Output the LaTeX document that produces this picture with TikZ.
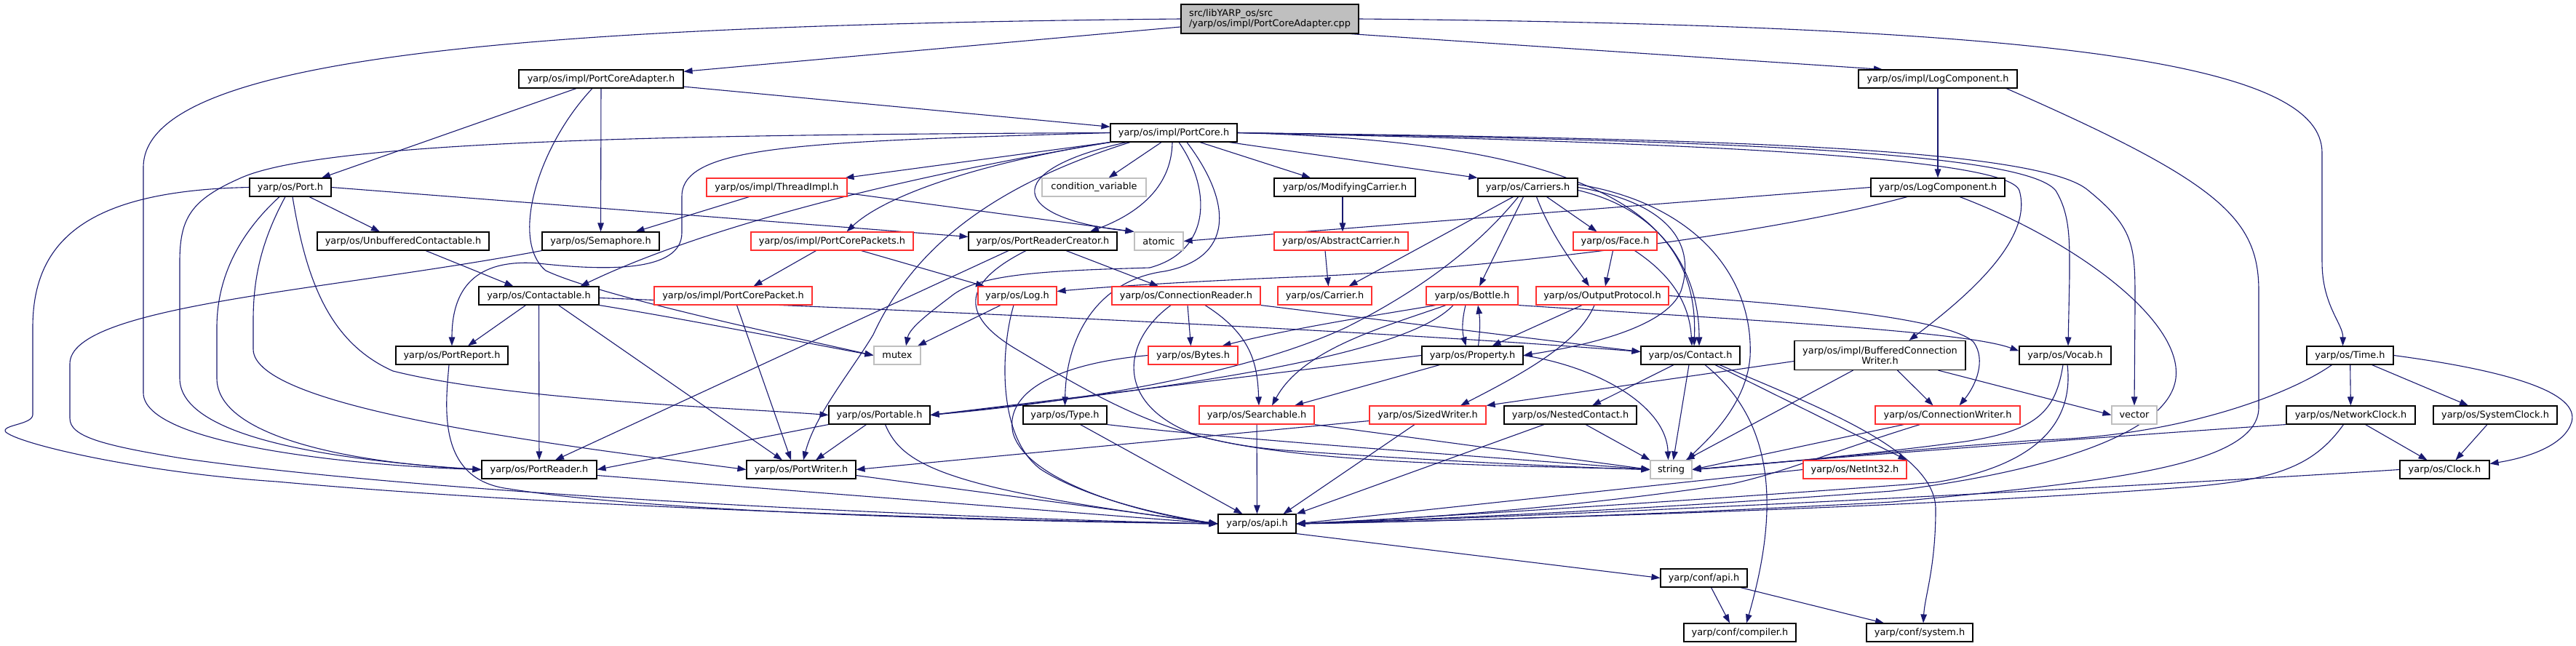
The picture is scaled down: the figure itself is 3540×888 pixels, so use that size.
\documentclass[tikz,border=0pt]{standalone}
\usepackage{fontspec}
\setmainfont{DejaVu Sans}
\usetikzlibrary{arrows.meta}
\definecolor{edgec}{HTML}{191970}
\definecolor{redc}{HTML}{FF3030}
\definecolor{grayc}{HTML}{BFBFBF}
\definecolor{rootc}{HTML}{BFBFBF}
\pgfdeclarelayer{bg}
\pgfsetlayers{bg,main}
\tikzset{
  box/.style={draw=black, line width=1.1pt, fill=white, minimum height=25pt, inner sep=0pt,
    font=\fontsize{12.9}{14}\selectfont, text=black},
  rbox/.style={box, draw=redc},
  gbox/.style={box, draw=grayc},
  e/.style={draw=edgec, line width=1.1pt, -{Triangle[length=12pt,width=8.5pt]}}
}
\begin{document}
\begin{tikzpicture}[x=1pt,y=-1pt]
\useasboundingbox (0,0) rectangle (3540,888);
% nodes
\node[box, fill=rootc, minimum width=244pt, minimum height=40pt, align=left] (root) at (1745,26) {src/libYARP\_os/src\\/yarp/os/impl/PortCoreAdapter.cpp};
\node[box, minimum width=226pt] (pca) at (826,108.5) {yarp/os/impl/PortCoreAdapter.h};
\node[box, minimum width=174pt] (pc) at (1613,182.5) {yarp/os/impl/PortCore.h};
\node[box, minimum width=218pt] (ilog) at (2663,108.5) {yarp/os/impl/LogComponent.h};
\node[box, minimum width=112pt] (port) at (399,257.5) {yarp/os/Port.h};
\node[rbox, minimum width=193pt] (thr) at (1067.5,257.5) {yarp/os/impl/ThreadImpl.h};
\node[gbox, minimum width=143pt] (cv) at (1503.5,257.5) {condition\_variable};
\node[box, minimum width=194pt] (mod) at (1848,257.5) {yarp/os/ModifyingCarrier.h};
\node[box, minimum width=137pt] (carriers) at (2099.5,257.5) {yarp/os/Carriers.h};
\node[box, minimum width=184pt] (olog) at (2663,257.5) {yarp/os/LogComponent.h};
\node[box, minimum width=236pt] (unb) at (554,331.5) {yarp/os/UnbufferedContactable.h};
\node[box, minimum width=161pt] (sem) at (825.5,331.5) {yarp/os/Semaphore.h};
\node[rbox, minimum width=223pt] (pcps) at (1143.5,331.5) {yarp/os/impl/PortCorePackets.h};
\node[box, minimum width=204pt] (prc) at (1433,331.5) {yarp/os/PortReaderCreator.h};
\node[gbox, minimum width=67pt] (atomic) at (1592.5,331.5) {atomic};
\node[rbox, minimum width=184pt] (abs) at (1843,331.5) {yarp/os/AbstractCarrier.h};
\node[rbox, minimum width=115pt] (face) at (2219.5,331.5) {yarp/os/Face.h};
\node[box, minimum width=165pt] (ctb) at (740.5,406.5) {yarp/os/Contactable.h};
\node[rbox, minimum width=217pt] (pcp) at (1007.5,406.5) {yarp/os/impl/PortCorePacket.h};
\node[rbox, minimum width=108pt] (log) at (1398,406.5) {yarp/os/Log.h};
\node[rbox, minimum width=204pt] (cr) at (1630,406.5) {yarp/os/ConnectionReader.h};
\node[rbox, minimum width=129pt] (carrier) at (1820.5,406.5) {yarp/os/Carrier.h};
\node[rbox, minimum width=126pt] (bottle) at (2023,406.5) {yarp/os/Bottle.h};
\node[rbox, minimum width=182pt] (op) at (2202,406.5) {yarp/os/OutputProtocol.h};
\node[box, minimum width=154pt] (prep) at (621,488.5) {yarp/os/PortReport.h};
\node[gbox, minimum width=64pt] (mutex) at (1233,488.5) {mutex};
\node[rbox, minimum width=123pt] (bytes) at (1639.5,488.5) {yarp/os/Bytes.h};
\node[box, minimum width=139pt] (prop) at (2023.5,488.5) {yarp/os/Property.h};
\node[box, minimum width=136pt] (contact) at (2323,488.5) {yarp/os/Contact.h};
\node[box, minimum width=235pt, minimum height=40pt, align=center] (bcw) at (2583.5,488.5) {yarp/os/impl/BufferedConnection\\Writer.h};
\node[box, minimum width=126pt] (vocab) at (2838,488.5) {yarp/os/Vocab.h};
\node[box, minimum width=119pt] (time) at (3229.5,488.5) {yarp/os/Time.h};
\node[box, minimum width=139pt] (portable) at (1208.5,570.5) {yarp/os/Portable.h};
\node[box, minimum width=115pt] (type) at (1463.5,570.5) {yarp/os/Type.h};
\node[rbox, minimum width=158pt] (search) at (1727,570.5) {yarp/os/Searchable.h};
\node[rbox, minimum width=160pt] (sw) at (1962,570.5) {yarp/os/SizedWriter.h};
\node[box, minimum width=182pt] (nc) at (2158,570.5) {yarp/os/NestedContact.h};
\node[rbox, minimum width=199pt] (cw) at (2676.5,570.5) {yarp/os/ConnectionWriter.h};
\node[gbox, minimum width=62pt] (vector) at (2933,570.5) {vector};
\node[box, minimum width=177pt] (nclock) at (3230.5,570.5) {yarp/os/NetworkClock.h};
\node[box, minimum width=170pt] (sclock) at (3429,570.5) {yarp/os/SystemClock.h};
\node[box, minimum width=158pt] (preader) at (741,645.5) {yarp/os/PortReader.h};
\node[box, minimum width=150pt] (pw) at (1101,645.5) {yarp/os/PortWriter.h};
\node[gbox, minimum width=57pt] (string) at (2296.5,645.5) {string};
\node[rbox, minimum width=142pt] (ni) at (2549,645.5) {yarp/os/NetInt32.h};
\node[box, minimum width=123pt] (clock) at (3359.5,645.5) {yarp/os/Clock.h};
\node[box, minimum width=107pt, minimum height=26pt] (api) at (1727.5,720) {yarp/os/api.h};
\node[box, minimum width=119pt] (capi) at (2341.5,794.5) {yarp/conf/api.h};
\node[box, minimum width=154pt] (comp) at (2391,869.5) {yarp/conf/compiler.h};
\node[box, minimum width=146pt] (sys) at (2638,869.5) {yarp/conf/system.h};

\begin{pgfonlayer}{bg}
\fill[white] (0,0) rectangle (3540,888);
% root
\draw[e] (root) -- (pca);
\draw[e] (root.west) .. controls (700,35) and (197,80) .. (197,230) -- (197,540) .. controls (197,610) and (480,640) .. (preader.west);
\draw[e] ([xshift=-12pt]root.south east) -- ([xshift=-76pt]ilog.north);
\draw[e] (root.east) .. controls (2850,35) and (3191,90) .. (3191,210) -- (3191,360) .. controls (3191,420) and (3220,445) .. ([xshift=-10pt]time.north);
% PortCoreAdapter
\draw[e] ([xshift=-34pt]pca.south) -- ([xshift=43pt]port.north);
\draw[e] (pca) -- (sem);
\draw[e] ([xshift=-12pt]pca.south) .. controls (740,200) and (700,330) .. (750,372) .. controls (820,405) and (1050,455) .. (mutex.west);
\draw[e] (pca) -- (pc);
% PortCore
\draw[e] (pc.south west) -- ([xshift=94pt]thr.north);
\draw[e] ([xshift=-17pt]pc.south) -- ([xshift=20pt]cv.north);
\draw[e] ([xshift=36pt]pc.south) -- ([xshift=-47pt]mod.north);
\draw[e] ([xshift=76pt]pc.south) -- (carriers.north west);
\draw[e] (pc.south west) .. controls (1340,225) and (1215,270) .. ([xshift=20pt]pcps.north);
\draw[e] (pc.south west) .. controls (1200,250) and (950,320) .. ([xshift=57pt]ctb.north);
\draw[e] ([xshift=-2pt]pc.south) .. controls (1610,260) and (1560,295) .. ([xshift=65pt]prc.north);
\draw[e] ([xshift=-65pt]pc.south) .. controls (1370,235) and (1390,300) .. (atomic.north west);
\draw[e] ([xshift=7pt]pc.south) .. controls (1665,260) and (1665,345) .. (1580,368) .. controls (1450,372) and (1350,375) .. (1310,405) .. controls (1280,428) and (1250,450) .. ([xshift=12pt]mutex.north);
\draw[e] ([xshift=18pt]pc.south) .. controls (1695,280) and (1695,355) .. (1600,373) .. controls (1510,385) and (1465,460) .. (type.north);
\draw[e] ([xshift=-60pt]pc.south) .. controls (1380,250) and (1260,330) .. (1200,460) .. controls (1170,510) and (1120,570) .. ([xshift=3pt]pw.north);
\draw[e] (pc.west) .. controls (1000,185) and (450,190) .. (330,245) .. controls (262,275) and (247,300) .. (247,360) -- (247,520) .. controls (247,600) and (450,632) .. (preader.west);
\draw[e] (pc.west) .. controls (1100,195) and (937,200) .. (937,270) -- (937,320) .. controls (937,375) and (830,372) .. (740,362) .. controls (650,355) and (621,400) .. (prep.north);
\draw[e] (pc.east) .. controls (2200,195) and (2335,300) .. ([xshift=5pt]contact.north);
\draw[e] (pc.east) .. controls (2300,195) and (2760,215) .. (2775,262) .. controls (2795,330) and (2700,410) .. ([xshift=40pt]bcw.north);
\draw[e] (pc.east) .. controls (2300,192) and (2780,205) .. (2825,262) .. controls (2845,295) and (2844,330) .. (2844,380) -- ([xshift=4pt]vocab.north);
\draw[e] (pc.east) .. controls (2300,190) and (2800,200) .. (2870,262) .. controls (2935,315) and (2934,340) .. (2934,420) -- (vector.north);
% Port
\draw[e] ([xshift=26pt]port.south) -- ([xshift=-32pt]unb.north);
\draw[e] (port.east) -- ([yshift=6pt]prc.west);
\draw[e] ([xshift=-15pt]port.south) .. controls (330,320) and (298,380) .. (298,450) -- (298,520) .. controls (298,600) and (480,636) .. (preader.west);
\draw[e] ([xshift=-7pt]port.south) .. controls (360,330) and (348,380) .. (348,440) -- (348,480) .. controls (348,560) and (750,610) .. (pw.west);
\draw[e] ([xshift=3pt]port.south) .. controls (420,380) and (450,470) .. (540,510) .. controls (700,550) and (1000,560) .. (portable.west);
\draw[e] (port.west) .. controls (120,262) and (45,330) .. (45,450) -- (45,570) .. controls (45,584) and (0,584) .. (8,594) .. controls (30,612) and (200,650) .. (380,662) .. controls (800,700) and (1400,716) .. (api.west);
% Semaphore, ThreadImpl, Unbuffered
\draw[e] (sem.south west) .. controls (450,400) and (96,420) .. (96,500) -- (96,575) .. controls (96,600) and (140,612) .. (250,630) .. controls (600,680) and (1300,712) .. (api.west);
\draw[e] ([xshift=-38pt]thr.south) -- ([xshift=48pt]sem.north);
\draw[e] ([yshift=-8pt]thr.east) -- (atomic.north west);
\draw[e] ([xshift=31pt]unb.south) -- ([xshift=-35pt]ctb.north);
% PortCorePackets, PortCorePacket
\draw[e] ([xshift=-22pt]pcps.south) -- ([xshift=28pt]pcp.north);
\draw[e] ([xshift=40pt]pcps.south) -- ([xshift=-45pt]log.north);
\draw[e] ([xshift=5pt]pcp.south) -- ([xshift=-14pt]pw.north);
% PortReaderCreator
\draw[e] ([xshift=32pt]prc.south) -- ([xshift=-38pt]cr.north);
\draw[e] ([xshift=-47pt]prc.south) -- ([xshift=22pt]preader.north);
\draw[e] ([xshift=-23pt]prc.south) .. controls (1330,385) and (1310,430) .. (1400,482) .. controls (1530,560) and (1620,610) .. (1780,620) .. controls (1950,632) and (2150,642) .. (string.west);
% ConnectionReader
\draw[e] ([xshift=2pt]cr.south) -- ([xshift=-3pt]bytes.north);
\draw[e] ([xshift=26pt]cr.south) .. controls (1720,460) and (1728,500) .. ([xshift=3pt]search.north);
\draw[e] ([xshift=-21pt]cr.south) .. controls (1540,470) and (1530,560) .. (1650,600) .. controls (1800,640) and (2100,640) .. (string.west);
\draw[e] (cr.south east) -- ([yshift=5pt]contact.west);
% Contactable
\draw[e] ([xshift=-18pt]ctb.south) -- ([xshift=22pt]prep.north);
\draw[e] (ctb) -- (preader);
\draw[e] ([xshift=27pt]ctb.south) -- ([xshift=-26pt]pw.north);
\draw[e] (ctb.south east) .. controls (950,440) and (1100,470) .. (mutex.west);
\draw[e] ([yshift=-3pt]ctb.east) .. controls (1300,428) and (1900,455) .. ([yshift=5pt]contact.west);
% PortReport, Log, Bytes, Type
\draw[e] ([xshift=-4pt]prep.south) .. controls (612,560) and (600,660) .. (700,672) .. controls (900,705) and (1400,717) .. (api.west);
\draw[e] ([xshift=-23pt]log.south) -- ([xshift=28pt]mutex.north);
\draw[e] ([xshift=-5pt]log.south) .. controls (1375,480) and (1370,600) .. (1430,645) .. controls (1500,690) and (1620,712) .. (api.west);
\draw[e] (bytes.west) .. controls (1450,500) and (1380,540) .. (1392,595) .. controls (1410,660) and (1560,705) .. (api.west);
\draw[e] ([xshift=21pt]type.south) -- ([xshift=-20pt]api.north);
\draw[e] (type.south east) .. controls (1700,605) and (2100,632) .. (string.west);
% Portable, PortWriter, PortReader, Searchable
\draw[e] ([xshift=-18pt]portable.south) -- ([xshift=20pt]pw.north);
\draw[e] (portable.south west) -- (preader.east);
\draw[e] ([xshift=8pt]portable.south) .. controls (1240,640) and (1300,672) .. (api.west);
\draw[e] ([yshift=-8pt]pw.east) -- (api.west);
\draw[e] ([yshift=-8pt]preader.east) -- (api.west);
\draw[e] (search) -- (api);
\draw[e] (search.south east) -- (string.west);
% Bottle, Property
\draw[e] ([xshift=-9pt]bottle.south) .. controls (2009,440) and (2009,455) .. ([xshift=-9pt]prop.north);
\draw[e] ([xshift=8pt]prop.north) .. controls (2034,455) and (2034,440) .. ([xshift=8pt]bottle.south);
\draw[e] ([xshift=-50pt]bottle.south) .. controls (1900,432) and (1780,450) .. ([xshift=40pt]bytes.north);
\draw[e] ([xshift=-36pt]bottle.south) .. controls (1900,450) and (1790,480) .. ([xshift=21pt]search.north);
\draw[e] ([xshift=-26pt]bottle.south) .. controls (1940,480) and (1700,525) .. (portable.east);
\draw[e] (bottle.south east) .. controls (2400,440) and (2700,455) .. ([yshift=6pt]vocab.west);
\draw[e] (prop.west) -- (portable.east);
\draw[e] ([xshift=-45pt]prop.south) -- ([xshift=52pt]search.north);
\draw[e] (prop.east) .. controls (2200,505) and (2290,560) .. ([xshift=-4pt]string.north);
% Face, OutputProtocol
\draw[e] ([xshift=-3pt]face.south) -- ([xshift=4pt]op.north);
\draw[e] ([xshift=27pt]face.south) .. controls (2300,380) and (2322,420) .. ([xshift=2pt]contact.north);
\draw[e] ([xshift=-28pt]op.south) -- ([xshift=27pt]prop.north);
\draw[e] ([xshift=-11pt]op.south) .. controls (2170,470) and (2100,510) .. ([xshift=45pt]sw.north);
\draw[e] (op.east) .. controls (2500,420) and (2680,440) .. (2712,470) .. controls (2730,495) and (2715,530) .. ([xshift=16pt]cw.north);
% Carriers
\draw[e] ([xshift=-20pt]carriers.south) -- ([xshift=33pt]carrier.north);
\draw[e] ([xshift=-6pt]carriers.south) -- ([xshift=10pt]bottle.north);
\draw[e] ([xshift=12pt]carriers.south) .. controls (2130,320) and (2160,360) .. ([xshift=-18pt]op.north);
\draw[e] ([xshift=26pt]carriers.south) -- ([xshift=-25pt]face.north);
\draw[e] ([xshift=-13pt]carriers.south) .. controls (2030,340) and (1950,400) .. (1850,450) .. controls (1700,520) and (1450,555) .. (portable.east);
\draw[e] (carriers.east) .. controls (2300,280) and (2330,340) .. (2310,400) .. controls (2290,450) and (2180,475) .. (prop.east);
\draw[e] ([yshift=-4pt]carriers.east) .. controls (2290,290) and (2335,380) .. ([xshift=12pt]contact.north);
\draw[e] ([yshift=4pt]carriers.east) .. controls (2330,280) and (2410,380) .. (2405,490) .. controls (2400,560) and (2340,610) .. ([xshift=22pt]string.north);
\draw[e] ([xshift=-3pt]mod.south) -- ([xshift=2pt]abs.north);
\draw[e] ([xshift=-22pt]abs.south) -- ([xshift=5pt]carrier.north);
% LogComponent
\draw[e] (ilog) -- (olog);
\draw[e] ([xshift=94pt]ilog.south) .. controls (3050,250) and (3104,300) .. (3104,400) -- (3104,560) .. controls (3104,640) and (2900,662) .. (2600,690) .. controls (2200,712) and (1900,718) .. (api.east);
\draw[e] ([xshift=-42pt]olog.south) .. controls (2400,330) and (2000,372) .. (1800,380) .. controls (1650,386) and (1520,394) .. ([yshift=6pt]log.east);
\draw[e] (olog.west) -- (atomic.east);
\draw[e] ([xshift=30pt]olog.south) .. controls (2850,330) and (3000,440) .. (2990,520) .. controls (2980,600) and (2800,650) .. (2600,675) .. controls (2200,705) and (1900,716) .. (api.east);
% Time, clocks
\draw[e] (time) -- (nclock);
\draw[e] ([xshift=30pt]time.south) -- ([xshift=-37pt]sclock.north);
\draw[e] (time.east) .. controls (3450,510) and (3545,540) .. (3534,580) .. controls (3525,610) and (3480,628) .. ([yshift=8pt]clock.east);
\draw[e] ([xshift=-25pt]time.south) .. controls (3150,540) and (3000,600) .. (2800,605) .. controls (2600,620) and (2400,640) .. (string.east);
\draw[e] ([xshift=20pt]nclock.south) -- ([xshift=-24pt]clock.north);
\draw[e] (nclock.south west) .. controls (2900,600) and (2500,630) .. (string.east);
\draw[e] ([xshift=-10pt]nclock.south) .. controls (3180,640) and (3130,660) .. (3000,670) .. controls (2600,700) and (2000,716) .. (api.east);
\draw[e] ([xshift=-11pt]sclock.south) -- ([xshift=15pt]clock.north);
\draw[e] (clock.west) .. controls (3000,665) and (2200,708) .. (api.east);
% Vocab
\draw[e] ([xshift=-3pt]vocab.south) .. controls (2825,565) and (2800,592) .. (2700,607) .. controls (2550,627) and (2400,640) .. (string.east);
\draw[e] ([xshift=3pt]vocab.south) .. controls (2850,580) and (2800,640) .. (2660,663) .. controls (2300,690) and (1950,712) .. (api.east);
% BufferedConnectionWriter
\draw[e] ([yshift=-8pt]bcw.west) -- (sw.north east);
\draw[e] ([xshift=-37pt]bcw.south) -- ([xshift=20pt]string.north);
\draw[e] ([xshift=24pt]bcw.south) -- ([xshift=-20pt]cw.north);
\draw[e] ([xshift=80pt]bcw.south) -- (vector.west);
% ConnectionWriter, NetInt32
\draw[e] ([xshift=-60pt]cw.south) -- (string.east);
\draw[e] ([xshift=-38pt]cw.south) .. controls (2520,620) and (2450,650) .. (2380,665) .. controls (2150,700) and (1900,716) .. (api.east);
\draw[e] (ni.west) -- (api.east);
% Contact
\draw[e] ([xshift=-23pt]contact.south) -- ([xshift=30pt]nc.north);
\draw[e] ([xshift=-2pt]contact.south) -- ([xshift=3pt]string.north);
\draw[e] ([xshift=20pt]contact.south) .. controls (2440,580) and (2445,700) .. ([xshift=9pt]comp.north);
\draw[e] ([xshift=34pt]contact.south) -- (ni.north east);
\draw[e] ([xshift=40pt]contact.south) .. controls (2500,560) and (2660,620) .. (2660,700) .. controls (2660,780) and (2645,820) .. ([xshift=5pt]sys.north);
% NestedContact, SizedWriter
\draw[e] ([xshift=21pt]nc.south) -- (string.north west);
\draw[e] ([xshift=-36pt]nc.south) -- (api.north east);
\draw[e] ([yshift=-8pt]sw.west) -- (pw.east);
\draw[e] ([xshift=-18pt]sw.south) -- ([xshift=36pt]api.north);
% api
\draw[e] (api.south east) -- (capi.west);
\draw[e] ([xshift=10pt]capi.south) -- ([xshift=-14pt]comp.north);
\draw[e] ([xshift=50pt]capi.south) -- ([xshift=-49pt]sys.north);
\end{pgfonlayer}
\end{tikzpicture}
\end{document}
